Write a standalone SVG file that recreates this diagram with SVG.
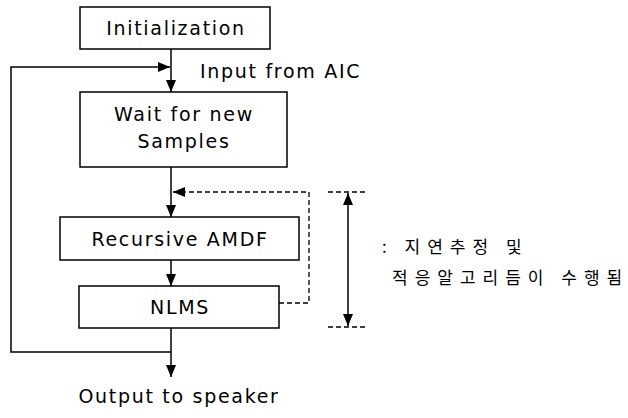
<svg xmlns="http://www.w3.org/2000/svg" width="628" height="418" viewBox="0 0 628 418">
<style>
.box{fill:#fff;stroke:#000;stroke-width:1.5}
.t{font-family:"DejaVu Sans",Verdana,sans-serif;font-size:19px;letter-spacing:1.7px;fill:#000;text-anchor:middle}
.ln{fill:none;stroke:#000;stroke-width:1.5}
.ds{fill:none;stroke:#000;stroke-width:1.3;stroke-dasharray:5,3}
.k{font-family:"Noto Sans CJK KR",sans-serif;font-size:17px;letter-spacing:7px;fill:#000}
</style>
<defs>
<marker id="b" viewBox="0 0 12 10" refX="12" refY="5" markerWidth="12" markerHeight="10" markerUnits="userSpaceOnUse" orient="auto-start-reverse"><path d="M0,0 L12,5 L0,10 z" fill="#000"/></marker>
</defs>
<g id="connectors">
<line class="ln" x1="171" y1="49" x2="171" y2="92" marker-end="url(#b)"/>
<polyline class="ln" points="171,352 11,352 11,67 170,67" marker-end="url(#b)"/>
<line class="ln" x1="171" y1="167" x2="171" y2="217" marker-end="url(#b)"/>
<line class="ln" x1="171" y1="260" x2="171" y2="286" marker-end="url(#b)"/>
<line class="ln" x1="171" y1="328" x2="171" y2="377" marker-end="url(#b)"/>
<polyline class="ds" points="279,303 309,303 309,192 173,192" marker-end="url(#b)"/>
<line class="ds" x1="328" y1="192" x2="368" y2="192"/>
<line class="ds" x1="328" y1="327" x2="368" y2="327"/>
<line class="ln" x1="348" y1="193" x2="348" y2="326" marker-start="url(#b)" marker-end="url(#b)"/>
</g>
<g id="init"><rect class="box" x="80" y="7" width="190" height="42"/><text class="t" x="176" y="35">Initialization</text></g>
<g id="wait"><rect class="box" x="80" y="92" width="207" height="75"/><text class="t" x="184" y="121">Wait for new</text><text class="t" x="184" y="148">Samples</text></g>
<g id="amdf"><rect class="box" x="60" y="217" width="239" height="43"/><text class="t" x="180" y="246">Recursive AMDF</text></g>
<g id="nlms"><rect class="box" x="79" y="286" width="200" height="42"/><text class="t" x="180" y="314">NLMS</text></g>
<g id="labels">
<text class="t" x="200" y="78" style="text-anchor:start">Input from AIC</text>
<text class="t" x="179" y="403">Output to speaker</text>
<text class="k" x="382" y="253">: 지연추정 및</text>
<text class="k" x="392" y="284">적응알고리듬이 수행됨</text>
</g>
</svg>
